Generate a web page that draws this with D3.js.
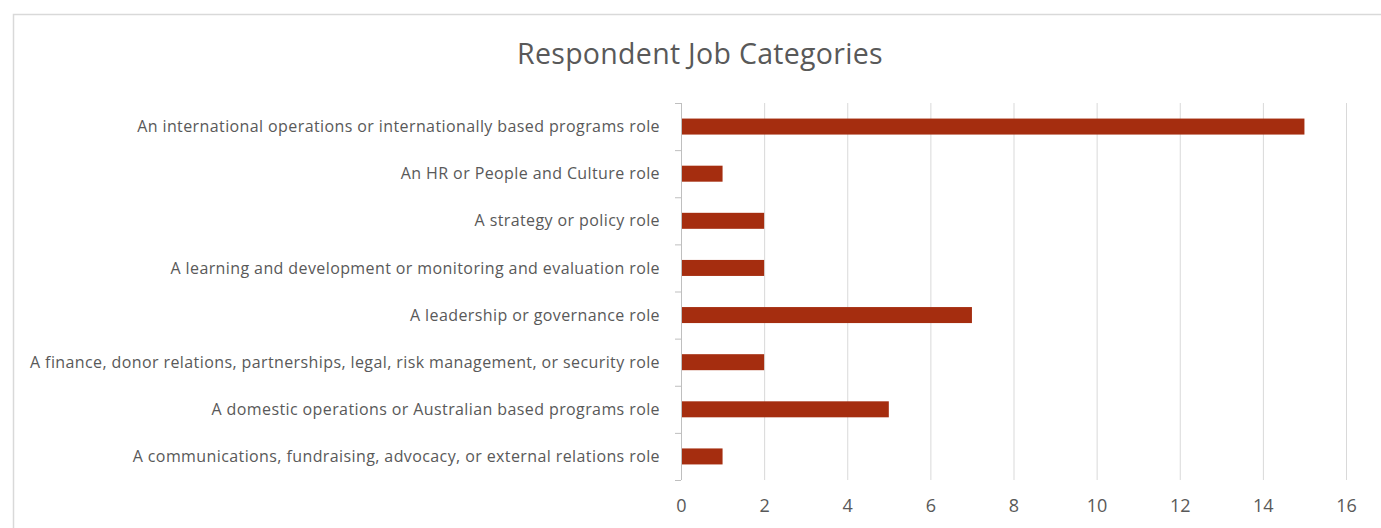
<!DOCTYPE html>
<html>
<head>
<meta charset="utf-8">
<script src="https://cdn.jsdelivr.net/npm/d3@7"></script>
<style>
  html, body { margin: 0; padding: 0; background: #fff; }
  svg { display: block; }
  text { font-family: "Open Sans", "Noto Sans", sans-serif; fill: #595959; }
</style>
</head>
<body>
<svg id="chart" width="1381" height="528"></svg>
<script>
// Job categories, listed top to bottom
const categories = [
  "An international operations or internationally based programs role",
  "An HR or People and Culture role",
  "A strategy or policy role",
  "A learning and development or monitoring and evaluation role",
  "A leadership or governance role",
  "A finance, donor relations, partnerships, legal, risk management, or security role",
  "A domestic operations or Australian based programs role",
  "A communications, fundraising, advocacy, or external relations role"
];
// Number of respondents in each category
const counts = [15, 1, 2, 2, 7, 2, 5, 1];
// Value axis ticks
const xTicks = [0, 2, 4, 6, 8, 10, 12, 14, 16];
const title = "Respondent Job Categories";

const svg = d3.select("#chart");

const plot = { left: 681, right: 1346, top: 103, bottom: 480 };

// Chart frame
svg.append("rect")
  .attr("x", 13.5).attr("y", 14.5)
  .attr("width", 1400).attr("height", 600)
  .attr("fill", "none").attr("stroke", "#d9d9d9").attr("stroke-width", 1.5);

const x = d3.scaleLinear().domain([0, 16]).range([plot.left, plot.right]);
const yBand = d3.scaleBand().domain(categories).range([plot.top, plot.bottom]);
const barH = 16;

// Vertical gridlines
svg.append("g").selectAll("line")
  .data(xTicks.filter(d => d > 0))
  .join("line")
  .attr("x1", d => x(d) + 0.5).attr("x2", d => x(d) + 0.5)
  .attr("y1", plot.top).attr("y2", plot.bottom)
  .attr("stroke", "#d9d9d9").attr("stroke-width", 1);

// Bars
svg.append("g").selectAll("rect")
  .data(categories.map((c, i) => ({ c, v: counts[i] })))
  .join("rect")
  .attr("x", x(0))
  .attr("y", d => yBand(d.c) + yBand.bandwidth() / 2 - barH / 2)
  .attr("width", d => x(d.v) - x(0))
  .attr("height", barH)
  .attr("fill", "#a52d0f");

// Category axis with boundary ticks
const axisG = svg.append("g");
axisG.append("line")
  .attr("x1", plot.left + 0.5).attr("x2", plot.left + 0.5)
  .attr("y1", plot.top).attr("y2", plot.bottom)
  .attr("stroke", "#bfbfbf");
const bounds = categories.map(c => yBand(c)).concat([plot.bottom]);
axisG.selectAll("line.tick")
  .data(bounds)
  .join("line")
  .attr("class", "tick")
  .attr("x1", plot.left - 6).attr("x2", plot.left)
  .attr("y1", d => d + 0.5).attr("y2", d => d + 0.5)
  .attr("stroke", "#bfbfbf");

// Category labels
svg.append("g").selectAll("text")
  .data(categories)
  .join("text")
  .attr("x", plot.left - 21)
  .attr("y", d => yBand(d) + yBand.bandwidth() / 2)
  .attr("dy", "0.35em")
  .attr("text-anchor", "end")
  .attr("font-size", 16)
  .attr("letter-spacing", 0.4)
  .text(d => d);

// Value axis labels
const xAxis = d3.axisBottom(x).tickValues(xTicks).tickSize(0).tickPadding(0);
const xg = svg.append("g").attr("transform", `translate(0,${plot.bottom})`).call(xAxis);
xg.select(".domain").remove();
xg.selectAll("text")
  .attr("y", 26)
  .attr("dy", "0.35em")
  .attr("font-size", 18)
  .attr("fill", "#595959")
  .style("font-family", "'Open Sans', sans-serif");

// Title
svg.append("text")
  .attr("x", 700).attr("y", 54)
  .attr("dy", "0.35em")
  .attr("text-anchor", "middle")
  .attr("font-size", 28.5)
  .attr("letter-spacing", 0.3)
  .text(title);
</script>
</body>
</html>
